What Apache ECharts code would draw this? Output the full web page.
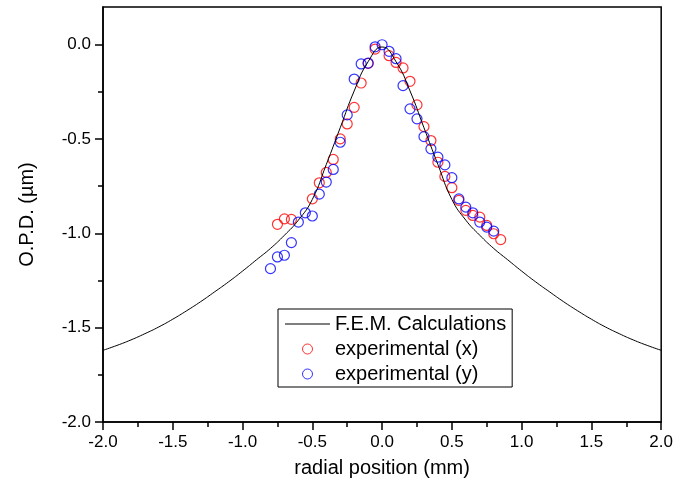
<!DOCTYPE html>
<html>
<head>
<meta charset="utf-8">
<script src="https://cdn.jsdelivr.net/npm/echarts@6/dist/echarts.min.js"></script>
<style>
html,body{margin:0;padding:0;background:#fff}
#chart{width:676px;height:488px}
</style>
</head>
<body>
<div id="chart"></div>
<script>
// F.E.M. curve (0.1 mm steps)
var femX = [-2.0,-1.9,-1.8,-1.7,-1.6,-1.5,-1.4,-1.3,-1.2,-1.1,-1.0,-0.9,-0.8,-0.7,-0.6,-0.5,-0.4,-0.3,-0.2,-0.1,0,
            0.1,0.2,0.3,0.4,0.5,0.6,0.7,0.8,0.9,1.0,1.1,1.2,1.3,1.4,1.5,1.6,1.7,1.8,1.9,2.0];
var femY = [-1.62,-1.594,-1.565,-1.532,-1.496,-1.455,-1.41,-1.362,-1.31,-1.257,-1.20,-1.14,-1.08,-1.01,-0.93,-0.82,-0.635,-0.44,-0.245,-0.09,-0.012,
            -0.09,-0.245,-0.44,-0.635,-0.82,-0.93,-1.01,-1.08,-1.14,-1.20,-1.257,-1.31,-1.362,-1.41,-1.455,-1.496,-1.532,-1.565,-1.594,-1.62];

// experimental (x)
var expXpos = [-0.75,-0.70,-0.65,-0.50,-0.45,-0.40,-0.35,-0.30,-0.25,-0.20,-0.15,-0.10,-0.05,
               0.05,0.10,0.15,0.20,0.25,0.30,0.35,0.40,0.45,0.50,0.55,0.60,0.65,0.70,0.75,0.80,0.85];
var expXopd = [-0.952,-0.923,-0.926,-0.817,-0.732,-0.677,-0.608,-0.499,-0.42,-0.332,-0.203,-0.099,-0.023,
               -0.058,-0.094,-0.123,-0.194,-0.319,-0.434,-0.508,-0.623,-0.698,-0.758,-0.825,-0.878,-0.905,-0.914,-0.958,-1.002,-1.033];

// experimental (y)
var expYpos = [-0.80,-0.75,-0.70,-0.65,-0.60,-0.55,-0.50,-0.45,-0.40,-0.35,-0.30,-0.25,-0.20,-0.15,-0.10,-0.05,0.00,
               0.05,0.10,0.15,0.20,0.25,0.30,0.35,0.40,0.45,0.50,0.55,0.60,0.65,0.70,0.75,0.80];
var expYopd = [-1.187,-1.125,-1.116,-1.049,-0.940,-0.891,-0.908,-0.792,-0.728,-0.661,-0.517,-0.372,-0.182,-0.102,-0.097,-0.011,0.000,
               -0.035,-0.074,-0.217,-0.340,-0.393,-0.487,-0.552,-0.596,-0.637,-0.705,-0.817,-0.861,-0.891,-0.940,-0.967,-0.988];

var yMajor = [-2.0,-1.5,-1.0,-0.5,0.0];
var yMinor = [-1.75,-1.25,-0.75,-0.25];

function pairs(xs, ys){
    return xs.map(function(v,i){ return [v, ys[i]]; });
}

var myChart = echarts.init(document.getElementById('chart'));
var font = 'Liberation Sans, Arial, sans-serif';

option = {
    animation: false,
    backgroundColor: '#fff',
    grid: {
        left: 103, right: 12, top: 7, bottom: 66,
        show: true, borderColor: '#000', borderWidth: 1.5
    },
    legend: {
        orient: 'vertical',
        left: 278, top: 309,
        borderColor: '#000', borderWidth: 1,
        padding: [5, 6, 3, 7],
        itemGap: 5,
        itemWidth: 45, itemHeight: 10,
        textStyle: {fontFamily: font, fontSize: 20, color: '#000'},
        data: [
            {name: 'F.E.M. Calculations', icon: 'path://M0,0 L45,0 L45,1 L0,1 Z', itemStyle: {color: '#000'}},
            {name: 'experimental (x)', icon: 'circle', itemStyle: {color: 'transparent', borderColor: '#ff0000', borderWidth: 1}},
            {name: 'experimental (y)', icon: 'circle', itemStyle: {color: 'transparent', borderColor: '#0000ff', borderWidth: 1}}
        ]
    },
    xAxis: {
        type: 'value', min: -2, max: 2, interval: 0.5,
        name: 'radial position (mm)', nameLocation: 'middle', nameGap: 36,
        nameTextStyle: {fontFamily: font, fontSize: 20, color: '#000'},
        axisLine: {onZero: false, lineStyle: {color: '#000', width: 1.5}},
        axisTick: {inside: false, length: 8, lineStyle: {color: '#000', width: 1.5}},
        minorTick: {show: true, splitNumber: 2, length: 5, lineStyle: {color: '#000', width: 1.5}},
        axisLabel: {fontFamily: font, fontSize: 17, color: '#000', margin: 12,
            formatter: function(v){ return v.toFixed(1); }},
        splitLine: {show: false}
    },
    yAxis: [{
        type: 'value', min: -2, max: 0.2,
        name: 'O.P.D. (\u00b5m)', nameLocation: 'middle', nameGap: 66,
        nameTextStyle: {fontFamily: font, fontSize: 20, color: '#000'},
        axisLine: {onZero: false, lineStyle: {color: '#000', width: 1.5}},
        axisTick: {inside: false, length: 8, customValues: yMajor, lineStyle: {color: '#000', width: 1.5}},
        axisLabel: {fontFamily: font, fontSize: 17, color: '#000', margin: 12, customValues: yMajor,
            formatter: function(v){ return v.toFixed(1); }},
        splitLine: {show: false}
    }, {
        type: 'value', min: -2, max: 0.2, position: 'left',
        axisLine: {show: false, onZero: false},
        axisTick: {inside: false, length: 5, customValues: yMinor, lineStyle: {color: '#000', width: 1.5}},
        axisLabel: {show: false},
        splitLine: {show: false}
    }],
    series: [
        {
            name: 'F.E.M. Calculations', type: 'line',
            data: pairs(femX, femY),
            showSymbol: false, symbol: 'none',
            smooth: 0.5,
            lineStyle: {color: '#000', width: 1},
            itemStyle: {color: '#000'}
        },
        {
            name: 'experimental (x)', type: 'scatter',
            data: pairs(expXpos, expXopd),
            symbol: 'circle', symbolSize: 10,
            itemStyle: {color: 'rgba(0,0,0,0)', borderColor: '#ff0000', borderWidth: 1.2}
        },
        {
            name: 'experimental (y)', type: 'scatter',
            data: pairs(expYpos, expYopd),
            symbol: 'circle', symbolSize: 10,
            itemStyle: {color: 'rgba(0,0,0,0)', borderColor: '#0000ff', borderWidth: 1.2}
        }
    ]
};
myChart.setOption(option);
</script>
</body>
</html>
